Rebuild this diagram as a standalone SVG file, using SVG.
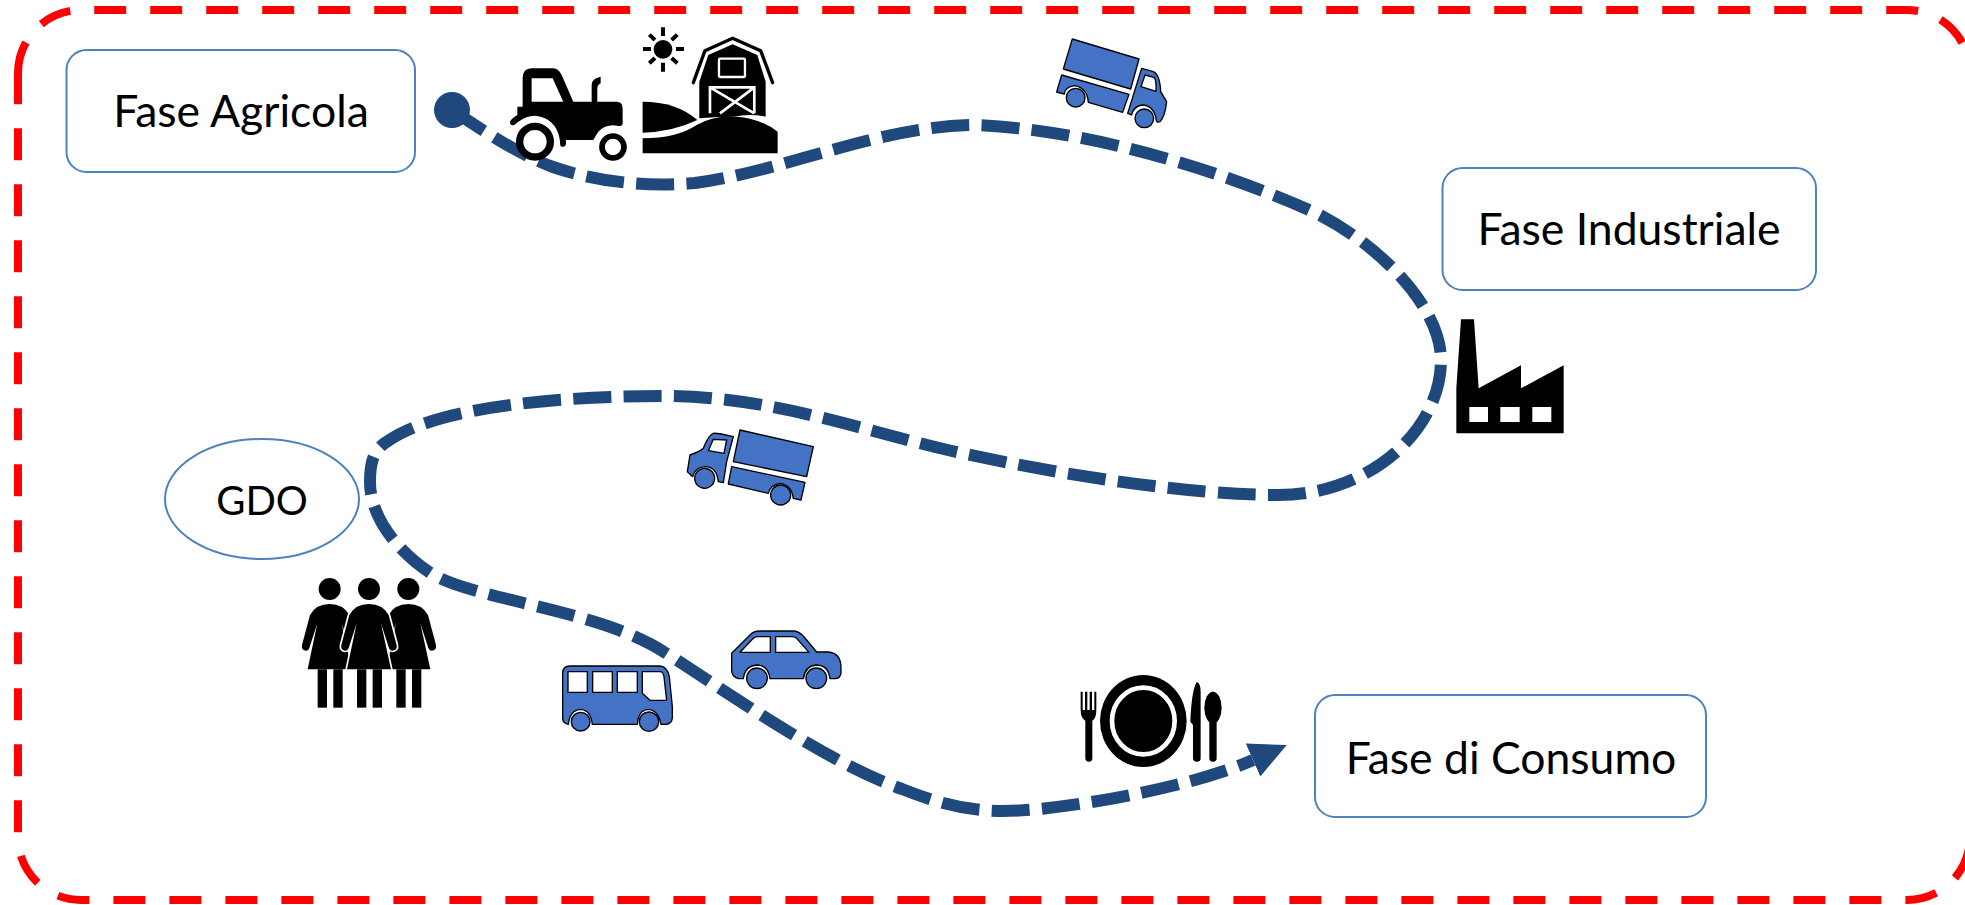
<svg xmlns="http://www.w3.org/2000/svg" width="1965" height="905" viewBox="0 0 1965 905">
<style>
.node{fill:#fff;stroke:#4f81bd;stroke-width:2}
.lbl{font-family:Lato,"Liberation Sans",sans-serif;font-size:44.500px;fill:#000;text-anchor:middle}
.bl{fill:#4472c4;stroke:#000;stroke-width:4;stroke-linejoin:round}
.wh{fill:#fff;stroke:#000;stroke-width:4;stroke-linejoin:round}
.conn{fill:none;stroke:#1f497d;stroke-width:12;stroke-dasharray:38 12.300}
</style>
<defs>
<marker id="dot" markerUnits="userSpaceOnUse" markerWidth="40" markerHeight="40" viewBox="-20 -20 40 40" refX="0" refY="0" orient="auto"><circle r="18" fill="#1f497d"/></marker>
<marker id="head" markerUnits="userSpaceOnUse" markerWidth="40" markerHeight="40" viewBox="0 -20 40 40" refX="0" refY="0" orient="auto"><polygon points="0,-18 37,0 0,18" fill="#1f497d"/></marker>
<g id="woman">
<circle cx="0" cy="-21" r="33"/>
<path d="M0 24Q41 24 59 57L83 147Q86 162 71 164Q61 164 58 150L36 82L66 220H-66L-37 82L-59 150Q-62 164-72 164Q-86 162-83 147L-59 57Q-41 24 0 24Z"/>
<rect x="-36" y="220" width="28" height="115" stroke="none"/>
<rect x="11" y="220" width="28" height="115" stroke="none"/>
</g>
</defs>
<rect width="1965" height="905" fill="#fff"/>
<path id="frame" d="M18 73A63 63 0 0 1 81 10H1907A63 63 0 0 1 1970 73V837A63 63 0 0 1 1907 900H81A63 63 0 0 1 18 837Z" fill="none" stroke="#f00" stroke-width="8" stroke-dasharray="32 24"/>
<g id="connectors">
<path class="conn" marker-start="url(#dot)" marker-end="url(#head)" d="M452 110C485 132 520 155 553 167C600 183 650 187 695 183C790 170 880 125 977 125C1090 130 1220 170 1316 213C1385 248 1441 310 1441 360C1441 430 1370 495 1278 495C1190 495 1060 475 952 451C860 430 770 396 664 396C570 396 440 405 388 441C372 450 370 465 370 482C370 515 395 550 432 574C475 600 600 610 664 652C710 680 820 760 902 789C935 802 965 811 1003 811C1060 811 1190 788 1253 760"/>
</g>
<g id="fase-agricola"><rect class="node" x="66.500" y="50" width="348.500" height="122" rx="20"/><text class="lbl" x="241" y="127">Fase Agricola</text></g>
<g id="fase-industriale"><rect class="node" x="1442.500" y="168" width="373.500" height="122" rx="20"/><text class="lbl" x="1629" y="245">Fase Industriale</text></g>
<g id="fase-consumo"><rect class="node" x="1315" y="695" width="391" height="122" rx="20"/><text class="lbl" x="1511" y="774">Fase di Consumo</text></g>
<g id="gdo"><ellipse class="node" cx="262" cy="499" rx="97" ry="60"/><text class="lbl" x="262" y="515" style="font-size:40px">GDO</text></g>
<g id="tractor" transform="translate(420 0) scale(.3333)">
<path d="M308 320V235Q308 205 335 205H400Q415 205 425 225L460 305H515V255Q515 235 542 230V250Q532 255 532 265V305H590Q608 305 608 325V370Q608 380 595 378Q560 370 535 395Q525 410 520 420H438V430Q438 442 425 440Q420 440 420 425Q415 375 375 355Q335 335 295 365L283 375Q270 378 270 365Q275 355 292 345V320Z"/>
<path d="M335 235H398L430 305H335Z" fill="#fff"/>
<circle cx="345" cy="425" r="46" fill="#fff" stroke="#000" stroke-width="22"/>
<circle cx="579" cy="441" r="33" fill="#fff" stroke="#000" stroke-width="17"/>
</g>
<g id="farm" transform="translate(420 0) scale(.3333)">
<circle cx="729" cy="148" r="28"/>
<path d="M729 82V108M729 188V215M669 147H693M768 147H792M688 104L705 120M772 104L755 120M688 190L705 174M772 190L755 174" stroke="#000" stroke-width="12" fill="none"/>
<path d="M838 245L865 165L938 133L1012 165L1037 245V350Q990 340 940 350Q880 350 838 355Z"/>
<path d="M820 248L855 152L938 115L1022 152L1058 248" fill="none" stroke="#000" stroke-width="10" stroke-linecap="round"/>
<rect x="897" y="176" width="78" height="55" rx="3" fill="none" stroke="#fff" stroke-width="7"/>
<path d="M870 340V262H1003V340M870 262L1003 340M1003 262L900 340" fill="none" stroke="#fff" stroke-width="8"/>
<path d="M668 305Q770 305 832 360Q760 395 668 398Z"/>
<path d="M668 415Q770 415 830 375Q880 345 950 350Q1020 355 1073 395V460H668Z"/>
</g>
<g id="truck-top" transform="translate(1030 20) scale(.3333)">
<polygon class="bl" points="127,57 327,117 302,207 100,147"/>
<path class="bl" d="M95 165L297 223L278 277L175 247Q172 205 135 197Q105 200 103 222L80 216Z"/>
<circle class="bl" cx="137" cy="233" r="28"/>
<path class="bl" d="M335 145L370 155Q390 165 392 215L410 245Q405 290 390 305Q378 310 378 295Q370 255 335 255Q310 260 305 285L293 280Z"/>
<path class="wh" d="M345 165L372 172Q380 180 378 214L333 200Z"/>
<circle class="bl" cx="343" cy="295" r="28"/>
</g>
<g id="factory" transform="translate(1420 300) scale(.3333)">
<path d="M123 58H162L176 265L303 196V265L431 196V400H109V265Z"/>
<path d="M148 321h56v45h-56zM241 321h58v45h-58zM337 321h57v45h-57z" fill="#fff"/>
</g>
<g id="truck-mid" transform="translate(670 410) scale(.3333)">
<polygon class="bl" points="210,60 430,110 410,200 190,155"/>
<path class="bl" d="M185 170L405 217L393 270L370 265Q365 225 330 220Q300 225 295 250L175 222Z"/>
<circle class="bl" cx="332" cy="255" r="30"/>
<path class="bl" d="M130 70Q140 68 190 80L170 155L160 218L145 215Q140 170 105 170Q75 172 68 200L52 185L60 135Q90 125 100 115Q115 75 130 70Z"/>
<path class="wh" d="M130 88L170 90L162 130L115 122Z"/>
<circle class="bl" cx="104" cy="205" r="30"/>
</g>
<g id="people" transform="translate(290 560) scale(.3333)">
<use href="#woman" x="119" y="108"/>
<use href="#woman" x="355" y="108"/>
<use href="#woman" x="237" y="108" stroke="#fff" stroke-width="10" paint-order="stroke"/>
</g>
<g id="bus" transform="translate(550 610) scale(.3333)">
<path class="bl" d="M38 190Q38 168 60 168H330Q352 170 358 200L367 290V325Q365 343 345 343H333Q325 300 295 298Q265 300 262 343H127Q122 300 92 298Q60 300 55 343Q38 340 38 325Z"/>
<rect class="wh" x="54" y="185" width="58" height="62"/>
<rect class="wh" x="128" y="185" width="59" height="62"/>
<rect class="wh" x="202" y="185" width="60" height="62"/>
<path class="wh" d="M277 185H330Q340 185 342 200L350 271H300L277 250Z"/>
<circle class="bl" cx="92" cy="335" r="28"/>
<circle class="bl" cx="297" cy="335" r="29"/>
</g>
<g id="car" transform="translate(550 610) scale(.3333)">
<path class="bl" d="M545 130L600 75Q610 63 630 63H730Q745 63 760 78L800 126H835Q872 130 873 170V190Q870 206 855 206H840Q835 165 798 165Q765 168 760 206H660Q655 165 620 165Q585 168 580 206H565Q545 200 545 180Z"/>
<path class="wh" d="M570 127L610 85Q615 80 625 80H661V127Z"/>
<path class="wh" d="M677 80H725Q735 80 740 85L777 127H677Z"/>
<circle class="bl" cx="621" cy="205" r="31"/>
<circle class="bl" cx="799" cy="205" r="31"/>
</g>
<g id="tableware" transform="translate(1060 660) scale(.3333)">
<ellipse cx="250" cy="183" rx="130" ry="138"/>
<ellipse cx="250" cy="183" rx="94" ry="100" fill="none" stroke="#fff" stroke-width="14"/>
<path d="M62 95H68V150H75V95H82V150H89V95H96V150H103V95H109V150Q109 175 97 182V295Q97 305 87 305Q76 305 76 295V182Q62 175 62 150Z"/>
<path d="M410 66Q422 70 422 95V295Q422 305 411 305Q399 305 399 295V195L391 185Q395 90 410 66Z"/>
<ellipse cx="459" cy="143" rx="26" ry="48"/>
<path d="M448 170H470V295Q470 305 459 305Q448 305 448 295Z"/>
</g>
</svg>
